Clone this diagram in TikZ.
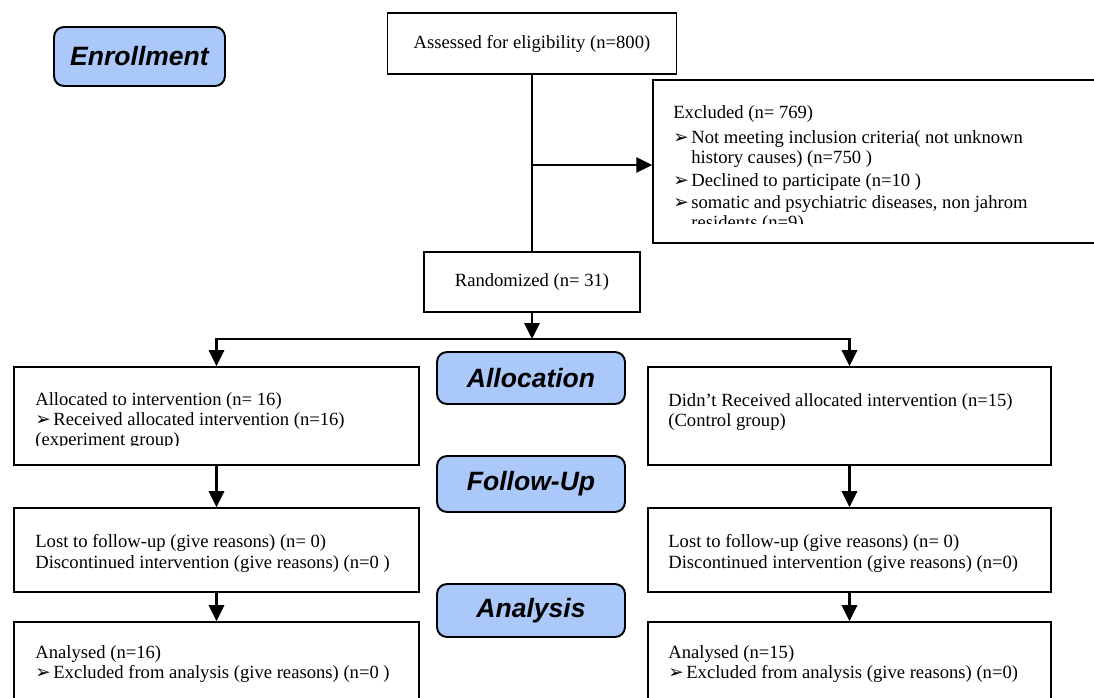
\documentclass[tikz,border=0pt]{standalone}
\usepackage{fontspec}
\setmainfont{Liberation Serif}
\setsansfont{Liberation Sans}
\newfontfamily\dingfont{DejaVu Sans}
\usetikzlibrary{arrows.meta}
\definecolor{stageblue}{RGB}{170,200,250}
\newcommand{\itm}{\makebox[0.36cm][l]{\dingfont\fontsize{10.5}{10}\selectfont ➢}}
\newcommand{\hng}{\hspace*{0.36cm}}

\begin{document}
\begin{tikzpicture}[x=0.02cm,y=-0.02cm,
    box/.style={draw,line width=0.9pt,inner sep=0pt},
    txt/.style={anchor=north west,inner sep=0pt,align=left,font=\fontsize{10.6}{11.4}\selectfont},
    stage/.style={draw,line width=1.1pt,rounded corners=0.2cm,fill=stageblue,inner sep=0pt,
      font=\sffamily\bfseries\itshape\fontsize{15.1}{18}\selectfont},
    conn/.style={line width=1.6pt},
    arr/.style={conn,-{Triangle[width=0.3cm,length=0.32cm]}}]
  \clip (0,0) rectangle (1094,697);

  \node[stage,minimum width=3.42cm,minimum height=1.18cm] (enrol) at (139.5,56.5) {Enrollment};
  \node[stage,minimum width=3.76cm,minimum height=1.04cm] (alloc) at (531,378) {Allocation};
  \node[stage,minimum width=3.76cm,minimum height=1.12cm] (follow) at (531,484) {Follow-Up};
  \node[stage,minimum width=3.76cm,minimum height=1.06cm] (anlys) at (531,610.5) {Analysis};

  \node[box,minimum width=5.78cm,minimum height=1.22cm,font=\fontsize{10.6}{11.4}\selectfont] (assess) at (532,43.5) {Assessed for eligibility (n=800)};
  \node[box,minimum width=4.32cm,minimum height=1.2cm,font=\fontsize{10.6}{11.4}\selectfont] (rand) at (532,282) {Randomized (n= 31)};

  \node[box,minimum width=9.14cm,minimum height=3.26cm] (excl) at (881.5,161.5) {};
  \node[box,minimum width=8.1cm,minimum height=1.96cm] (allocL) at (216.5,416) {};
  \node[box,minimum width=8.06cm,minimum height=1.96cm] (allocR) at (849.5,416) {};
  \node[box,minimum width=8.1cm,minimum height=1.68cm] (followL) at (216.5,550) {};
  \node[box,minimum width=8.06cm,minimum height=1.68cm] (followR) at (849.5,550) {};
  \node[box,minimum width=8.1cm,minimum height=1.96cm] (anlysL) at (216.5,671) {};
  \node[box,minimum width=8.06cm,minimum height=1.96cm] (anlysR) at (849.5,671) {};

  \begin{scope}
    \clip (653,80) rectangle (1094,223);
    \node[txt] (excltxt) at (673,105.5) {Excluded (n= 769)\\[0.1cm]
      \itm Not meeting inclusion criteria( not unknown\\
      \hng history causes) (n=750 )\\[0.06cm]
      \itm Declined to participate (n=10 )\\[0.04cm]
      \itm somatic and psychiatric diseases, non jahrom\\
      \hng residents (n=9)};
  \end{scope}
  \begin{scope}
    \clip (14,367) rectangle (419,445);
    \node[txt] (allocLtxt) at (35,392.5) {Allocated to intervention (n= 16)\\
      \itm Received allocated intervention (n=16)\\
      (experiment group)};
  \end{scope}
  \node[txt] (allocRtxt) at (668,393.5) {Didn’t Received allocated intervention (n=15)\\
    (Control group)};
  \node[txt] (followLtxt) at (35,534.5) {Lost to follow-up (give reasons) (n= 0)\\
    Discontinued intervention (give reasons) (n=0 )};
  \node[txt] (followRtxt) at (668,534.5) {Lost to follow-up (give reasons) (n= 0)\\
    Discontinued intervention (give reasons) (n=0)};
  \node[txt] (anlysLtxt) at (35,645.5) {Analysed (n=16)\\
    \itm Excluded from analysis (give reasons) (n=0 )};
  \node[txt] (anlysRtxt) at (668,645.5) {Analysed (n=15)\\
    \itm Excluded from analysis (give reasons) (n=0)};

  \coordinate (branch) at (532,165);
  \coordinate (split) at (532,339);
  \draw[conn] (assess) -- (rand);
  \draw[arr] (branch) -- (branch -| excl.west);
  \draw[arr] (rand) -- (split);
  \draw[arr] (split) -| (allocL);
  \draw[arr] (split) -| (allocR);
  \draw[arr] (allocL) -- (followL);
  \draw[arr] (followL) -- (anlysL);
  \draw[arr] (allocR) -- (followR);
  \draw[arr] (followR) -- (anlysR);
\end{tikzpicture}
\end{document}
